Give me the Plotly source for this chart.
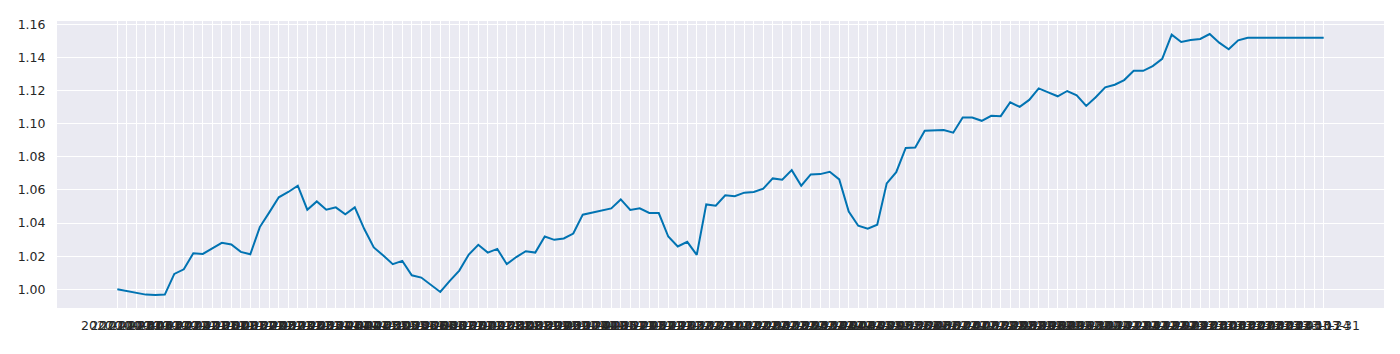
import pandas as pd
import plotly.graph_objects as go

# Weekly dates (Fridays)
dates = [d.strftime("%Y-%m-%d") for d in pd.date_range("2020-10-23", "2023-03-31", freq="7D")]

values = [
    1.0000, 0.9988, 0.9978, 0.9968, 0.9966, 0.9968, 1.0093, 1.0121, 1.0218, 1.0214,
    1.0248, 1.0281, 1.0271, 1.0226, 1.0212, 1.0376, 1.0465, 1.0556, 1.0588, 1.0626,
    1.0481, 1.0531, 1.0481, 1.0495, 1.0453, 1.0495, 1.0364, 1.0253, 1.0204, 1.0152,
    1.0172, 1.0085, 1.0071, 1.0028, 0.9984, 1.0051, 1.0113, 1.0210, 1.0269, 1.0222,
    1.0244, 1.0152, 1.0195, 1.0230, 1.0222, 1.0319, 1.0299, 1.0307, 1.0337, 1.0451,
    1.0463, 1.0477, 1.0489, 1.0543, 1.0479, 1.0489, 1.0461, 1.0461, 1.0319, 1.0259,
    1.0287, 1.0208, 1.0513, 1.0505, 1.0568, 1.0562, 1.0584, 1.0588, 1.0608, 1.0670,
    1.0662, 1.0720, 1.0626, 1.0694, 1.0696, 1.0710, 1.0664, 1.0470, 1.0384, 1.0366,
    1.0390, 1.0640, 1.0708, 1.0854, 1.0856, 1.0958, 1.0962, 1.0962, 1.0946, 1.1038,
    1.1038, 1.1018, 1.1048, 1.1046, 1.1130, 1.1102, 1.1144, 1.1214, 1.1190, 1.1166,
    1.1198, 1.1172, 1.1108, 1.1160, 1.1220, 1.1236, 1.1264, 1.1320, 1.1320, 1.1348,
    1.1392, 1.1538, 1.1494, 1.1506, 1.1512, 1.1542, 1.1490, 1.1450, 1.1504, 1.1520,
    1.1520, 1.1520, 1.1520, 1.1520, 1.1520, 1.1520, 1.1520, 1.1520,
]

y_ticks = [1.00, 1.02, 1.04, 1.06, 1.08, 1.10, 1.12, 1.14, 1.16]

n = len(dates)
vmin, vmax = min(values), max(values)
ypad = (vmax - vmin) * 0.05
xpad = (n - 1) * 0.05

fig = go.Figure(
    go.Scatter(
        x=dates, y=values, mode="lines",
        line=dict(color="#0173B2", width=2),
    )
)

fig.update_layout(
    width=1400, height=354,
    margin=dict(l=57, r=16, t=21, b=46),
    paper_bgcolor="white",
    plot_bgcolor="#EAEAF2",
    showlegend=False,
    font=dict(family="DejaVu Sans", size=12.5, color="#262626"),
)

fig.update_xaxes(
    type="category",
    categoryorder="array", categoryarray=dates,
    tickmode="array", tickvals=dates, ticktext=dates,
    tickangle=0,
    range=[-xpad, n - 1 + xpad],
    showgrid=True, gridcolor="white", gridwidth=1.3,
    ticks="outside", ticklen=6, tickcolor="rgba(0,0,0,0)",
    showline=False, zeroline=False,
)

fig.update_yaxes(
    range=[vmin - ypad, vmax + ypad],
    tickmode="array", tickvals=y_ticks, ticktext=[f"{t:.2f}" for t in y_ticks],
    showgrid=True, gridcolor="white", gridwidth=1.3,
    ticks="outside", ticklen=8, tickcolor="rgba(0,0,0,0)",
    showline=False, zeroline=False,
)

fig.write_html("out.html")
